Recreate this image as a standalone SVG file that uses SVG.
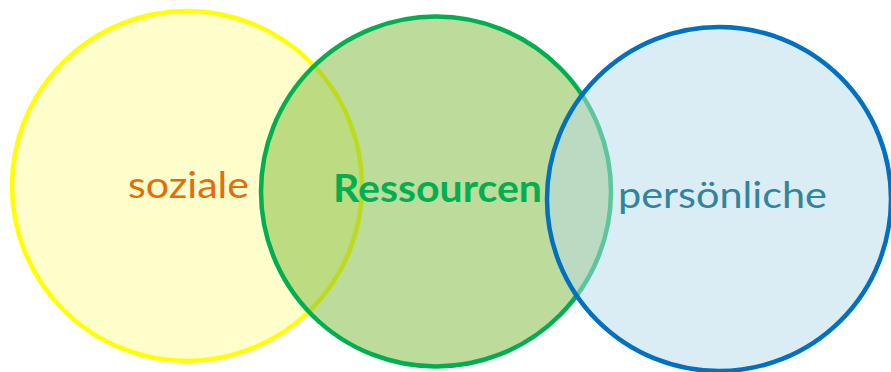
<svg xmlns="http://www.w3.org/2000/svg" width="891" height="372" viewBox="0 0 891 372">
<style>
.c{stroke-width:4.5}
.t{font-family:Lato,"Open Sans","Liberation Sans",sans-serif;font-size:36px}
</style>
<rect width="891" height="372" fill="#ffffff"/>
<g id="node-soziale">
<circle class="c" cx="187" cy="186" r="175" fill="#FFFFCC" stroke="#FFFF00"/>
</g>
<g id="node-ressourcen">
<circle class="c" cx="436" cy="191.5" r="175" fill="rgb(126,185,56)" fill-opacity="0.51" stroke="#00B050" stroke-opacity="1"/>
</g>
<g id="node-persoenliche">
<circle class="c" cx="719" cy="199" r="172" fill="rgb(183,220,233)" fill-opacity="0.5" stroke="#0070C0"/>
</g>
<g id="connectors"></g>
<g id="labels">
<text class="t" x="128" y="197.5" fill="#E46C0A" textLength="121" lengthAdjust="spacingAndGlyphs">soziale</text>
<text class="t" x="333" y="201.5" fill="#00B050" font-weight="bold" style="font-size:37.5px" textLength="209" lengthAdjust="spacingAndGlyphs">Ressourcen</text>
<text class="t" x="618" y="207.5" fill="#31849B" textLength="209" lengthAdjust="spacingAndGlyphs">persönliche</text>
</g>
</svg>
